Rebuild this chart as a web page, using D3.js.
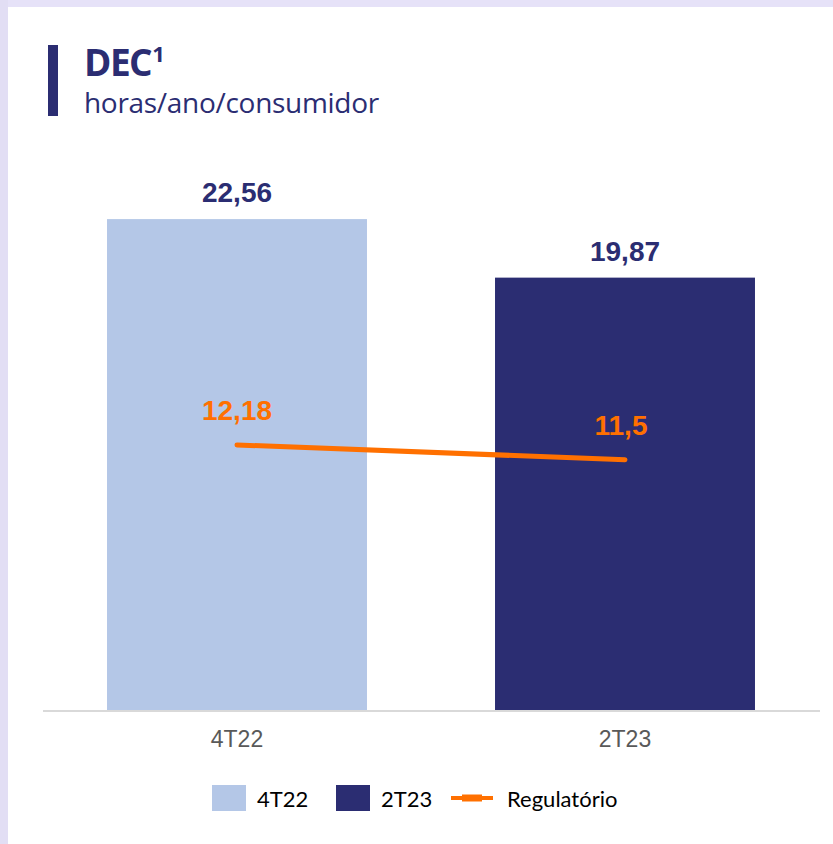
<!DOCTYPE html>
<html>
<head>
<meta charset="utf-8">
<script src="https://cdn.jsdelivr.net/npm/d3@7"></script>
<style>
  html, body { margin: 0; padding: 0; background: #fff; }
  svg { display: block; }
</style>
</head>
<body>
<div class="visualisation"></div>
<script>
const categories = ['4T22', '2T23'];
const barValues = [22.56, 19.87];
const regValues = [12.18, 11.5];
const barLabels = ['22,56', '19,87'];
const regLabels = ['12,18', '11,5'];
const legendLabels = ['4T22', '2T23', 'Regulatório'];

const svgWidth = 833;
const svgHeight = 844;
const navy = '#2b2d72';
const lightBlue = '#b4c7e7';
const orange = '#ff7000';
const barColors = [lightBlue, navy];

const xScale = d3.scaleBand().domain(categories).range([43, 819]).paddingInner(0.33).paddingOuter(0.165);
const yScale = d3.scaleLinear().domain([0, 25]).range([710, 710 - 25 * 21.76]);

const svg = d3.select('.visualisation')
    .append('svg')
    .attr('width', svgWidth)
    .attr('height', svgHeight);

// lavender frame at top / left
svg.append('rect').attr('x', 0).attr('y', 0).attr('width', svgWidth).attr('height', 7).attr('fill', '#e6e2f8');
svg.append('rect').attr('x', 0).attr('y', 0).attr('width', 8).attr('height', svgHeight).attr('fill', '#e2def4');

// title block
svg.append('rect').attr('x', 48).attr('y', 45).attr('width', 10).attr('height', 71).attr('fill', navy);
const title = svg.append('text')
    .attr('x', 84).attr('y', 76)
    .attr('fill', navy)
    .attr('font-family', 'Open Sans, sans-serif')
    .attr('font-weight', 'bold')
    .attr('font-size', 37)
    .attr('letter-spacing', -1.5);
title.append('tspan').text('DEC');
title.append('tspan').attr('font-size', 22).attr('dy', -14).attr('dx', 1).attr('letter-spacing', 0).text('1');
svg.append('text')
    .attr('x', 84).attr('y', 113)
    .attr('fill', navy)
    .attr('font-family', 'Open Sans, sans-serif')
    .attr('font-size', 28)
    .attr('letter-spacing', -0.3)
    .text('horas/ano/consumidor');

// bars
svg.selectAll('rect.bar')
    .data(categories)
    .join('rect')
    .attr('class', 'bar')
    .attr('x', (d) => xScale(d))
    .attr('y', (d, i) => yScale(barValues[i]))
    .attr('width', xScale.bandwidth())
    .attr('height', (d, i) => yScale(0) - yScale(barValues[i]))
    .attr('fill', (d, i) => barColors[i]);

// bar value labels
svg.selectAll('text.bar-label')
    .data(categories)
    .join('text')
    .attr('class', 'bar-label')
    .attr('x', (d) => xScale(d) + xScale.bandwidth() / 2)
    .attr('y', (d, i) => yScale(barValues[i]) - 17)
    .attr('text-anchor', 'middle')
    .attr('fill', navy)
    .attr('font-family', 'Liberation Sans, Arial, sans-serif')
    .attr('font-weight', 'bold')
    .attr('font-size', 28)
    .text((d, i) => barLabels[i]);

// x axis
svg.append('line')
    .attr('x1', 43).attr('x2', 820)
    .attr('y1', yScale(0) + 1).attr('y2', yScale(0) + 1)
    .attr('stroke', '#d9d9d9').attr('stroke-width', 2);

svg.selectAll('text.cat')
    .data(categories)
    .join('text')
    .attr('class', 'cat')
    .attr('x', (d) => xScale(d) + xScale.bandwidth() / 2)
    .attr('y', 747)
    .attr('text-anchor', 'middle')
    .attr('fill', '#595959')
    .attr('font-family', 'Liberation Sans, Arial, sans-serif')
    .attr('font-size', 23)
    .text((d) => d);

// regulatory line
const line = d3.line()
    .x((d, i) => xScale(categories[i]) + xScale.bandwidth() / 2)
    .y((d) => yScale(d));

svg.append('path')
    .datum(regValues)
    .attr('d', line)
    .attr('fill', 'none')
    .attr('stroke', orange)
    .attr('stroke-width', 5)
    .attr('stroke-linecap', 'round');

svg.selectAll('text.reg-label')
    .data(regValues)
    .join('text')
    .attr('class', 'reg-label')
    .attr('x', (d, i) => xScale(categories[i]) + xScale.bandwidth() / 2 - (i === 1 ? 4 : 0))
    .attr('y', (d) => yScale(d) - 25)
    .attr('text-anchor', 'middle')
    .attr('fill', orange)
    .attr('font-family', 'Liberation Sans, Arial, sans-serif')
    .attr('font-weight', 'bold')
    .attr('font-size', 28)
    .text((d, i) => regLabels[i]);

// legend
const legend = svg.append('g').attr('font-family', 'Lato, sans-serif').attr('font-size', 22).attr('fill', '#000');
const legendX = [212, 336];
legendX.forEach((x, i) => {
    legend.append('rect').attr('x', x).attr('y', 785).attr('width', 34).attr('height', 26).attr('fill', barColors[i]);
    legend.append('text').attr('x', x + 45).attr('y', 807).text(legendLabels[i]);
});
legend.append('line').attr('x1', 451).attr('x2', 493).attr('y1', 798).attr('y2', 798)
    .attr('stroke', orange).attr('stroke-width', 4);
legend.append('line').attr('x1', 462).attr('x2', 482).attr('y1', 798).attr('y2', 798)
    .attr('stroke', orange).attr('stroke-width', 7);
legend.append('text').attr('x', 507).attr('y', 807).text(legendLabels[2]);
</script>
</body>
</html>
